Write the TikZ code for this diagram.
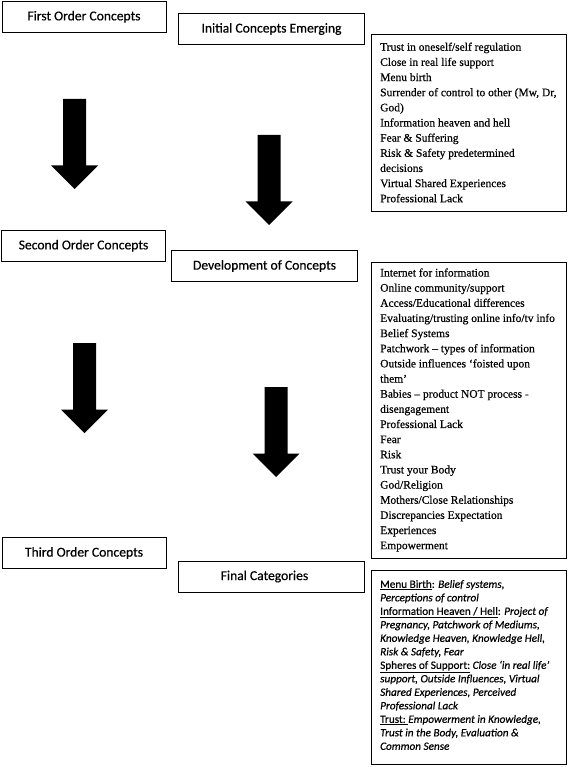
\documentclass[tikz,border=0pt]{standalone}
\usepackage{fontspec}
\setmainfont{Liberation Serif}[FakeBold=0.5]
\newfontfamily\calibri{Carlito}[FakeBold=0.5]
\begin{document}
\begin{tikzpicture}[x=1pt,y=-1pt,
  hbox/.style={draw, line width=0.9pt, inner sep=0pt, minimum height=31pt,
    font=\calibri\fontsize{13.6}{16}\selectfont},
  leftbox/.style={hbox, minimum width=164pt},
  midbox/.style={hbox, minimum width=186pt},
  listframe/.style={draw, line width=0.9pt, inner sep=0pt, minimum width=195pt},
  listtext/.style={anchor=west, inner sep=0pt, align=left},
  serift/.style={listtext, font=\fontsize{11.5}{15.15}\selectfont},
  calit/.style={listtext, font=\calibri\fontsize{11.2}{13.5}\selectfont},
  bigarrow/.pic={\fill (-11.5,0) -- (11.5,0) -- (11.5,66.5) -- (23.5,66.5)
    -- (0,90) -- (-23.5,66.5) -- (-11.5,66.5) -- cycle;}
]
\useasboundingbox (0,0) rectangle (567,767);

% first order
\node[leftbox] (first) at (84,16.75) {First Order Concepts};
\node[midbox] (initial) at (271.5,29) {Initial Concepts Emerging};
\node[listframe, minimum height=177pt] (list1) at (468.5,122.5) {};
\node[serift] (list1t) at (380,122.5) {Trust in oneself/self regulation\\
Close in real life support\\
Menu birth\\
Surrender of control to other (Mw, Dr,\\
God)\\
Information heaven and hell\\
Fear \& Suffering\\
Risk \& Safety predetermined\\
decisions\\
Virtual Shared Experiences\\
Professional Lack};

\pic (arr1) at (74.5,99) {bigarrow};
\pic (arr2) at (269,135) {bigarrow};

% second order
\node[leftbox] (second) at (83.5,245.75) {Second Order Concepts};
\node[midbox] (dev) at (264.5,266) {Development of Concepts};
\node[listframe, minimum height=296pt] (list2) at (468.5,410) {};
\node[serift] (list2t) at (380,410) {Internet for information\\
Online community/support\\
Access/Educational differences\\
Evaluating/trusting online info/tv info\\
Belief Systems\\
Patchwork – types of information\\
Outside influences ‘foisted upon\\
them’\\
Babies – product NOT process -\\
disengagement\\
Professional Lack\\
Fear\\
Risk\\
Trust your Body\\
God/Religion\\
Mothers/Close Relationships\\
Discrepancies Expectation\\
Experiences\\
Empowerment};

\pic (arr3) at (84.5,343) {bigarrow};
\pic (arr4) at (276,387) {bigarrow};

% third order
\node[leftbox] (third) at (84,553) {Third Order Concepts};
\node[midbox] (final) at (271.5,576.5) {Final Categories\hspace*{14pt}};
\node[listframe, minimum height=194pt] (list3) at (468.5,667) {};
\node[calit] (list3t) at (380,665) {\underline{Menu Birth}: \textit{Belief systems,}\\
\textit{Perceptions of control}\\
\underline{Information Heaven / Hell}: \textit{Project of}\\
\textit{Pregnancy, Patchwork of Mediums,}\\
\textit{Knowledge Heaven, Knowledge Hell,}\\
\textit{Risk \& Safety, Fear}\\
\underline{Spheres of Support:} \textit{Close ‘in real life’}\\
\textit{support, Outside Influences, Virtual}\\
\textit{Shared Experiences, Perceived}\\
\textit{Professional Lack}\\
\underline{Trust:\ }\textit{Empowerment in Knowledge,}\\
\textit{Trust in the Body, Evaluation \&}\\
\textit{Common Sense}};
\end{tikzpicture}
\end{document}
